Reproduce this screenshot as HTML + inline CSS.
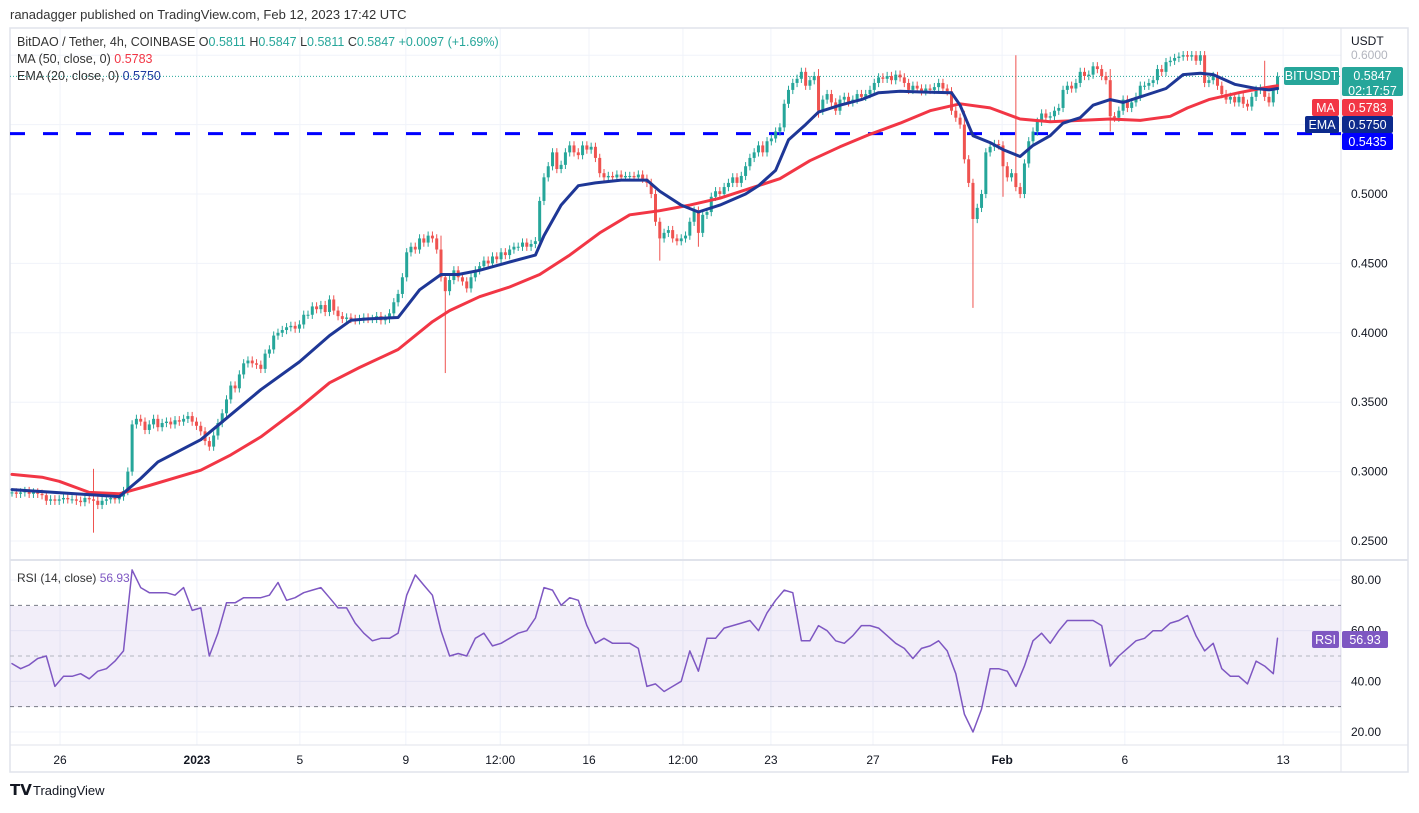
<!DOCTYPE html>
<html><head><meta charset="utf-8"><style>
body{margin:0;background:#fff;width:1419px;height:808px;overflow:hidden;font-family:"Liberation Sans",sans-serif;}
svg text{font-family:"Liberation Sans",sans-serif;}
</style></head><body>
<svg id="c" width="1419" height="808" xmlns="http://www.w3.org/2000/svg">
<text x="10" y="19" font-size="13" fill="#333">ranadagger published on TradingView.com, Feb 12, 2023 17:42 UTC</text>
<g id="grid"></g>
<rect x="10" y="28" width="1398" height="744" fill="none" stroke="#e0e3eb" stroke-width="1.5"/>
<line x1="1341" y1="28" x2="1341" y2="772" stroke="#e0e3eb"/>
<line x1="10" y1="560" x2="1408" y2="560" stroke="#e0e3eb" stroke-width="2"/>
<line x1="10" y1="745" x2="1408" y2="745" stroke="#e0e3eb"/>
<rect x="10" y="606" width="1331" height="101" fill="#7e57c2" fill-opacity="0.1"/>
<g id="rsiLines"></g>
<g id="levels"></g>
<g id="candles"></g>
<g id="inds"></g>
<g id="axes"></g>
<g font-size="12.5">
<text x="17" y="46" fill="#333">BitDAO / Tether, 4h, COINBASE <tspan fill="#333">O</tspan><tspan fill="#26a69a">0.5811</tspan> <tspan fill="#333">H</tspan><tspan fill="#26a69a">0.5847</tspan> <tspan fill="#333">L</tspan><tspan fill="#26a69a">0.5811</tspan> <tspan fill="#333">C</tspan><tspan fill="#26a69a">0.5847 +0.0097 (+1.69%)</tspan></text>
<text x="17" y="63" fill="#333">MA (50, close, 0) <tspan fill="#f23645">0.5783</tspan></text>
<text x="17" y="80" fill="#333">EMA (20, close, 0) <tspan fill="#1e3aa0">0.5750</tspan></text>
<text x="17" y="582" fill="#333" font-size="12">RSI (14, close) <tspan fill="#7e57c2">56.93</tspan></text>
</g>
<g>
<text x="10" y="795" font-size="15" font-weight="bold" fill="#131722">𝗧𝗩</text>
<text x="33" y="795" font-size="13" fill="#131722">TradingView</text>
</g>
</svg>
<script>
const closes=[285,284,285,286,284,285,284,283,279,280,279,280,281,280,280,279,278,281,280,279,276,279,280,281,280,282,
286,300,334,338,336,330,334,338,332,335,336,334,337,336,338,340,336,333,329,322,318,326,335,342,352,362,360,370,378,380,378,377,374,385,388,398,400,402,404,405,403,406,413,413,419,417,420,415,424,416,412,410,411,410,409,410,411,410,410,412,409,410,414,422,428,440,458,462,460,468,465,470,468,460,440,430,438,445,440,437,432,440,445,448,452,450,455,453,458,456,460,462,462,465,462,464,466,495,512,520,530,518,521,530,535,530,528,535,532,534,526,515,512,513,512,514,512,513,513,512,514,511,508,500,480,468,472,474,468,466,468,470,480,488,472,485,487,498,502,500,505,508,512,508,513,520,526,530,535,530,538,540,545,548,565,575,580,583,588,578,582,585,560,568,572,566,560,568,570,566,568,572,570,572,575,580,584,583,585,582,586,584,580,575,578,576,574,576,575,577,580,576,574,560,555,550,525,508,482,490,500,530,534,536,535,520,512,515,505,500,522,538,545,552,558,555,556,560,562,575,578,576,580,588,585,586,592,590,585,582,556,555,560,568,562,566,570,578,578,580,582,590,588,595,596,598,599,600,599,600,596,600,580,582,585,578,572,568,570,566,570,565,563,570,575,576,570,566,575,584.7];
const firstOpen=285;
const wickHighIdx=[19,100,188,222,234,256,278,292];
const wickHighVal=[302,470,590,560,600,590,602,596];
const wickLowIdx=[19,101,151,160,224,231,256,188];
const wickLowVal=[256,371,452,462,418,498,545,555];
const emaIdx=[0,25,30,34,44,51,58,67,74,79,83,90,95,100,104,109,116,122,124,128,132,136,142,148,151,156,160,165,171,174,178,181,185,188,193,198,202,207,212,219,221,224,228,231,235,238,242,245,249,252,256,259,264,269,273,277,280,285,290,293,295];
const emaVal=[.287,.282,.295,.307,.323,.341,.359,.379,.398,.409,.41,.411,.431,.442,.442,.445,.451,.456,.47,.492,.506,.508,.51,.51,.502,.492,.487,.492,.5,.506,.517,.539,.55,.559,.564,.568,.573,.574,.5735,.573,.564,.542,.537,.532,.527,.535,.542,.551,.555,.564,.568,.566,.571,.576,.586,.587,.586,.579,.576,.575,.576];
const maIdx=[0,7,11,18,25,32,44,51,58,67,74,81,90,98,102,109,116,123,130,137,144,151,158,165,172,179,186,193,200,207,214,221,228,235,242,249,256,263,270,274,279,286,291,295];
const maVal=[.298,.296,.293,.285,.284,.29,.301,.312,.325,.346,.364,.375,.388,.408,.416,.426,.433,.442,.456,.472,.485,.488,.492,.497,.504,.511,.524,.534,.543,.551,.56,.565,.562,.554,.552,.553,.554,.553,.556,.562,.568,.573,.576,.578];
const rsiVal=[47,45,46.5,49,50,38,42,42,43,41,44,45,48,52,84,77,75,75,75,74,77,68,69,50,59,71,71,73,73,73,74,79,72,73,75,76,77,73,69,69,63,59,56,57,57,59,74,82,78,74,60,50,51,50,57,59,54,55,57,59,60,65,77,76,70,73,72,62,55,57,55,55,55,53,38,39,36,38,40,52,44,57,57,61,62,63,64,60,67,72,76,75,56,56,62,60,56,55,58,62,62,61,58,55,53,49,53,54,56,52,43,27,20,29,45,45,44,38,46,56,59,55,60,64,64,64,64,62,46,50,53,56,57,60,60,63,64,66,58,52,55,45,42,42,39,48,46,43,57];
const priceTicks=[0.25,0.3,0.35,0.4,0.45,0.5,0.55];
const rsiTicks=[20,40,60,80];
const dateLabels=['26','2023','5','9','12:00','16','12:00','23','27','Feb','6','13'];
const dateIdx=[11.9,43.8,67.8,92.5,114.5,135.2,157.1,177.6,201.4,231.5,260.1,297];
const supportLevel=0.5435;

const NS='http://www.w3.org/2000/svg';
const X0=12,DX=4.29;
const xs=i=>X0+DX*i;
const yp=p=>194-(p-0.5)*1388;
const yr=v=>580-(v-80)*2.533;
function mk(tag,attrs,parent){const e=document.createElementNS(NS,tag);for(const k in attrs)e.setAttribute(k,attrs[k]);parent.appendChild(e);return e;}
const grid=document.getElementById('grid');
priceTicks.forEach(p=>{const l=mk('line',{x1:10,x2:1341,y1:yp(p),y2:yp(p),stroke:'#f0f3fa'},grid);});
mk('line',{x1:10,x2:1341,y1:yp(0.6),y2:yp(0.6),stroke:'#f0f3fa'},grid);
rsiTicks.forEach(v=>{const l=mk('line',{x1:10,x2:1341,y1:yr(v),y2:yr(v),stroke:'#f0f3fa'},grid);});
dateIdx.forEach(i=>{const l=mk('line',{x1:xs(i)-3,x2:xs(i)-3,y1:28,y2:745,stroke:'#f0f3fa'},grid);});
const rl=document.getElementById('rsiLines');
[[70,'#787b86'],[50,'#b2b5be'],[30,'#787b86']].forEach(([v,c])=>{const l=mk('line',{x1:10,x2:1341,y1:yr(v),y2:yr(v),stroke:c,'stroke-dasharray':'4 4'},rl);});
const lv=document.getElementById('levels');
const sl=mk('line',{x1:10,x2:1341,y1:yp(supportLevel),y2:yp(supportLevel),stroke:'#0000ff','stroke-width':3,'stroke-dasharray':'15 18'},lv);

const last=closes[closes.length-1]/1000;
const ll=mk('line',{x1:10,x2:1341,y1:yp(last),y2:yp(last),stroke:'#26a69a','stroke-dasharray':'1 2'},lv);

const cg=document.getElementById('candles');
closes.forEach((c,i)=>{
  const o=i?closes[i-1]:firstOpen;
  let h=Math.max(o,c)+3,l=Math.min(o,c)-3;
  const hi=wickHighIdx.indexOf(i);if(hi>=0)h=Math.max(h,wickHighVal[hi]);
  const li=wickLowIdx.indexOf(i);if(li>=0)l=Math.min(l,wickLowVal[li]);
  const col=c>=o?'#26a69a':'#ef5350';const x=xs(i);
  const g=mk('g',{},cg);
  
  
  mk('line',{x1:x,x2:x,y1:yp(h/1000),y2:yp(l/1000),stroke:col,'stroke-width':1},g);
  const yt=yp(Math.max(o,c)/1000),yb=yp(Math.min(o,c)/1000);
  mk('rect',{x:x-1.5,y:yt,width:3,height:Math.max(1,yb-yt),fill:col},g);
});
const ig=document.getElementById('inds');
function poly(idx,vals,yf,col,w,name){const pts=idx.map((d,k)=>xs(d).toFixed(1)+','+yf(vals[k]).toFixed(1)).join(' ');const p=mk('polyline',{points:pts,fill:'none',stroke:col,'stroke-width':w,'stroke-linejoin':'round','stroke-linecap':'round'},ig);}
poly(maIdx,maVal,yp,'#f23645',3,'ma-50-line');
poly(emaIdx,emaVal,yp,'#1e3796',3,'ema-20-line');
poly(rsiVal.map((v,k)=>Math.min(2*k,295)),rsiVal,yr,'#7e57c2',1.5,'rsi-line');
const ax=document.getElementById('axes');
function txt(x,y,s,attrs){const t=mk('text',Object.assign({x:x,y:y,'font-size':12,fill:'#131722'},attrs||{}),ax);t.textContent=s;return t;}
priceTicks.forEach(p=>{const t=txt(1351,yp(p)+4,p.toFixed(4));});
let t=txt(1351,45,'USDT');
t=txt(1351,59,'0.6000',{fill:'#b2b5be'});
rsiTicks.forEach(v=>{const t=txt(1351,yr(v)+4,v.toFixed(2));});
dateLabels.forEach((s,k)=>{const t=txt(xs(dateIdx[k])-3,764,s,{'text-anchor':'middle','font-weight':s==='2023'||s==='Feb'?'bold':'normal'});});
function badge(x,y,w,h,bg,lines,name){const g=mk('g',{},ax);mk('rect',{x:x,y:y,width:w,height:h,rx:2,fill:bg},g);lines.forEach((s,k)=>{const t=mk('text',{x:x+w/2,y:y+13+k*15,'font-size':12.5,fill:'#fff','text-anchor':'middle'},g);t.textContent=s;});}
badge(1284,67,55,18,'#26a69a',['BITUSDT'],'symbol-badge');
badge(1342,67,61,29,'#26a69a',[last.toFixed(4),'02:17:57'],'last-price-badge');
badge(1312,99,27,17,'#f23645',['MA'],'ma-badge');
badge(1342,99,51,17,'#f23645',['0.5783'],'ma-value-badge');
badge(1305,116,34,17,'#0d2a8c',['EMA'],'ema-badge');
badge(1342,116,51,17,'#0d2a8c',['0.5750'],'ema-value-badge');
badge(1342,133,51,17,'#0000ff',[supportLevel.toFixed(4)],'support-badge');
badge(1312,631,27,17,'#7e57c2',['RSI'],'rsi-badge');
badge(1342,631,46,17,'#7e57c2',['56.93'],'rsi-value-badge');
</script>
</body></html>
